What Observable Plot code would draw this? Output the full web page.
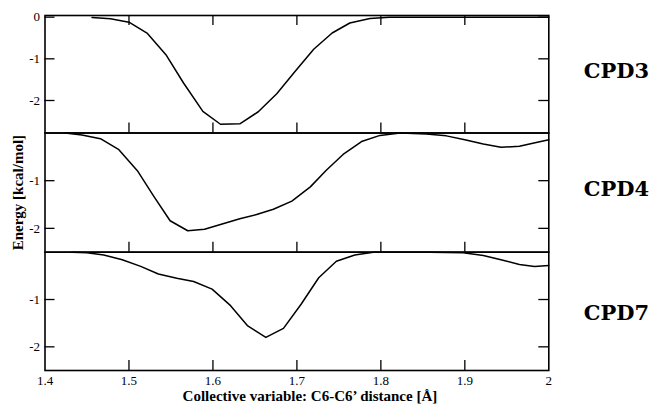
<!DOCTYPE html>
<html><head><meta charset="utf-8">
<script src="https://cdn.jsdelivr.net/npm/d3@7"></script>
<script src="https://cdn.jsdelivr.net/npm/@observablehq/plot@0.6"></script>
<style>
body{margin:0;background:#fff;}
#c{position:relative;width:655px;height:404px;overflow:hidden;background:#fff}
#c svg{position:absolute;left:0;overflow:visible}
</style></head><body><div id="c"></div>
<script>
// ---- data ----
const cpd3X = [1.456,1.478,1.500,1.522,1.544,1.565,1.588,1.609,1.632,1.654,1.676,1.698,1.720,1.742,1.763,1.787,1.810,1.850,1.900,1.950,2.000];
const cpd3Y = [-0.01,-0.04,-0.12,-0.39,-0.90,-1.58,-2.26,-2.57,-2.56,-2.27,-1.84,-1.30,-0.77,-0.38,-0.14,-0.03,0,0,0,0,0];

const cpd4X = [1.424,1.444,1.466,1.488,1.510,1.530,1.549,1.570,1.590,1.611,1.632,1.652,1.672,1.694,1.716,1.735,1.755,1.777,1.799,1.823,1.854,1.878,1.900,1.922,1.943,1.965,1.985,2.000];
const cpd4Y = [0,-0.04,-0.12,-0.35,-0.79,-1.34,-1.84,-2.05,-2.02,-1.91,-1.80,-1.71,-1.60,-1.43,-1.13,-0.78,-0.45,-0.18,-0.05,0,-0.02,-0.06,-0.14,-0.23,-0.30,-0.28,-0.20,-0.14];

const cpd7X = [1.432,1.450,1.470,1.492,1.514,1.535,1.557,1.577,1.599,1.621,1.641,1.663,1.684,1.705,1.726,1.747,1.769,1.791,1.823,1.858,1.898,1.922,1.943,1.965,1.983,2.000];
const cpd7Y = [0,-0.01,-0.06,-0.16,-0.30,-0.46,-0.55,-0.62,-0.78,-1.13,-1.55,-1.80,-1.61,-1.10,-0.54,-0.19,-0.06,0,0,0,-0.01,-0.07,-0.16,-0.26,-0.30,-0.28];

const xTicks = [1.4,1.5,1.6,1.7,1.8,1.9,2.0];
const xTickLabels = ["1.4","1.5","1.6","1.7","1.8","1.9","2"];
const xInnerTicks = [1.5,1.6,1.7,1.8,1.9];
const yTicks = [0,-1,-2];
const names = ["CPD3","CPD4","CPD7"];
const xTitle = "Collective variable: C6-C6’ distance [Å]";
const yTitle = "Energy [kcal/mol]";

// ---- layout ----
const W = 655, ML = 44.5, MR = 655 - 548.3;
const innerW = W - ML - MR;
const serif = "'Liberation Serif', 'Times New Roman', serif";
const labelFont = "'DejaVu Serif', serif";

function panel(o) {
  const innerH = o.height - o.mt - o.mb;
  const data = o.xs.map((x, i) => ({x, y: o.ys[i]}));
  const tickStyle = {stroke: "black", strokeWidth: 1.3};
  const marks = [
    Plot.frame({stroke: "black", strokeWidth: 1.6}),
    Plot.tickY(o.yTicks, {y: d => d, insetRight: innerW - 10, ...tickStyle}),
    Plot.tickY(o.yTicks, {y: d => d, insetLeft: innerW - 10, ...tickStyle}),
    Plot.tickX(xInnerTicks, {x: d => d, insetTop: innerH - 10, ...tickStyle}),
    Plot.text(o.yLabels, {y: d => d, text: d => String(d), frameAnchor: "left", textAnchor: "end", lineAnchor: "middle", dx: -5, fontSize: 13, fill: "black"}),
    Plot.line(data, {x: "x", y: "y", stroke: "black", strokeWidth: 1.5}),
    Plot.text([o.name], {frameAnchor: "right", textAnchor: "middle", lineAnchor: "middle", dx: 67.7, dy: o.nameDy, fontSize: 21, fontWeight: "bold", fontFamily: labelFont, fill: "black"})
  ];
  if (o.topTicks) marks.push(Plot.tickX(xInnerTicks, {x: d => d, insetBottom: innerH - 10, ...tickStyle}));
  if (o.xAxis) {
    marks.push(Plot.text(xTicks, {x: d => d, text: (d, i) => xTickLabels[i], frameAnchor: "bottom", lineAnchor: "top", dy: 5, fontSize: 13, fill: "black"}));
    marks.push(Plot.text([xTitle], {frameAnchor: "bottom", lineAnchor: "top", textAnchor: "middle", dx: 13, dy: 19.5, fontSize: 15, fontWeight: "bold", fill: "black"}));
  }
  if (o.yTitle) {
    marks.push(Plot.text([yTitle], {frameAnchor: "left", rotate: -90, textAnchor: "middle", lineAnchor: "middle", dx: -27, fontSize: 15, fontWeight: "bold", fill: "black"}));
  }
  const svg = Plot.plot({
    width: W, height: o.height,
    marginLeft: ML, marginRight: MR, marginTop: o.mt, marginBottom: o.mb,
    x: {domain: [1.4, 2.0], axis: null},
    y: {domain: o.yDomain, axis: null},
    style: {fontFamily: serif, fontSize: "13px", overflow: "visible", background: "transparent", color: "black"},
    marks
  });
  svg.style.top = o.top + "px";
  document.getElementById("c").appendChild(svg);
}

panel({xs: cpd3X, ys: cpd3Y, yDomain: [-2.78, 0.04], top: 0, height: 133, mt: 15, mb: 0.5,
  yTicks: yTicks, yLabels: [0, -1, -2], topTicks: true, name: names[0], nameDy: -2.7});
panel({xs: cpd4X, ys: cpd4Y, yDomain: [-2.5, 0], top: 132, height: 120, mt: 0.5, mb: 0.3,
  yTicks: [-1, -2], yLabels: [-1, -2], name: names[1], nameDy: -3, yTitle: true});
panel({xs: cpd7X, ys: cpd7Y, yDomain: [-2.5, 0], top: 251, height: 153, mt: 0.7, mb: 34,
  yTicks: [-1, -2], yLabels: [-1, -2], name: names[2], nameDy: 1.5, xAxis: true});
</script>
</body></html>
